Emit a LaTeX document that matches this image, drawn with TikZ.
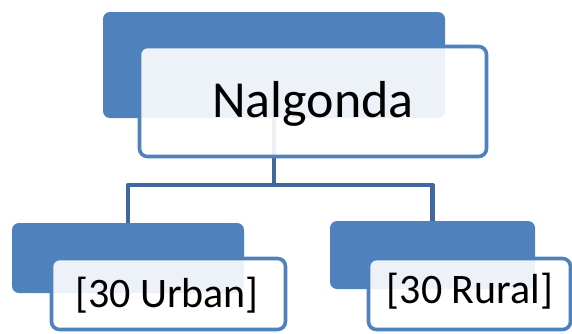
\documentclass[tikz,border=0pt]{standalone}
\usepackage{fontspec}
\setmainfont{Carlito}
\definecolor{boxblue}{HTML}{4F81BD}
\definecolor{linkblue}{HTML}{41689C}
\begin{document}
\begin{tikzpicture}[
    x=1pt,
    y=-1pt,
    line cap=butt,
    line join=round,
    backbox/.style={
        fill=boxblue,
        rounded corners=7pt,
        inner sep=0pt
    },
    frontbox/.style={
        draw=boxblue,
        line width=3.6pt,
        fill=white,
        fill opacity=0.9,
        rounded corners=8pt,
        inner sep=0pt
    },
    caption/.style={
        anchor=base,
        inner sep=0pt,
        text=black
    },
    conn/.style={
        draw=linkblue,
        line width=4.5pt
    }
]

% =========================================================
% Границы рисунка
% =========================================================

\useasboundingbox (0,0) rectangle (572,333);

% =========================================================
% Задние (синие) прямоугольники
% =========================================================

\node[backbox, minimum width=342pt, minimum height=106pt]
    (cityBack) at (274,65) {};

\node[backbox, minimum width=232pt, minimum height=70pt]
    (urbanBack) at (128,258) {};

\node[backbox, minimum width=205pt, minimum height=68pt]
    (ruralBack) at (432.5,255) {};

% =========================================================
% Соединительные линии
% =========================================================

\coordinate (fork) at (274,185);

\draw[conn] (cityBack.south) -- (fork);
\draw[conn] (fork) -| (urbanBack.north);
\draw[conn] (fork) -| (ruralBack.north);

% =========================================================
% Передние (светлые) прямоугольники
% =========================================================

\node[frontbox, minimum width=347pt, minimum height=110pt]
    (cityFront) at (313,101.5) {};

\node[frontbox, minimum width=234pt, minimum height=71pt]
    (urbanFront) at (168.5,294) {};

\node[frontbox, minimum width=202pt, minimum height=71pt]
    (ruralFront) at (469.5,294) {};

% =========================================================
% Подписи
% =========================================================

\node[caption, font=\fontsize{52}{62}\selectfont]
    (cityText) at (313,117) {Nalgonda};

\node[caption, font=\fontsize{42}{50}\selectfont]
    (urbanText) at (167,307) {[30 Urban]};

\node[caption, font=\fontsize{42}{50}\selectfont]
    (ruralText) at (470,303) {[30 Rural]};

\end{tikzpicture}
\end{document}
